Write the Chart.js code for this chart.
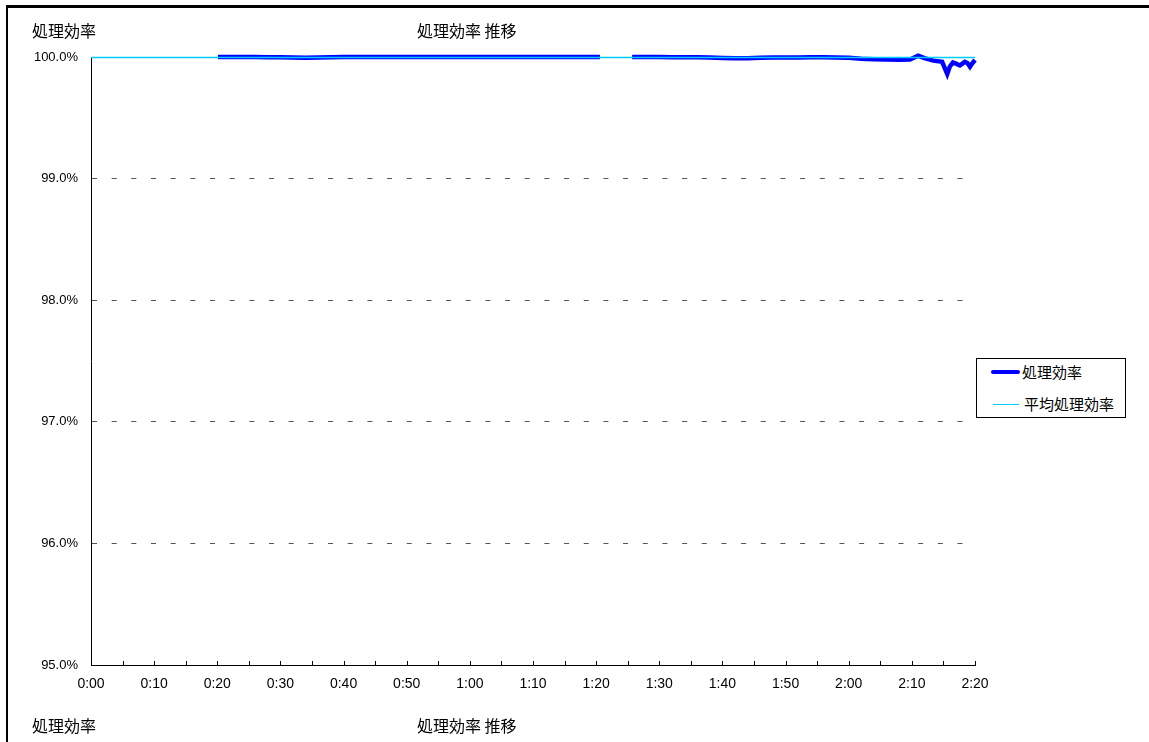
<!DOCTYPE html>
<html>
<head>
<meta charset="utf-8">
<script src="https://cdn.jsdelivr.net/npm/chart.js@4/dist/chart.umd.min.js"></script>
<style>
  html, body { margin: 0; padding: 0; background: #fff; }
  #wrap { position: relative; width: 1149px; height: 742px; overflow: hidden; background: #fff; }
  #frame { position: absolute; left: 6px; top: 5px; right: -10px; bottom: -10px;
           border-top: 3px solid #000; border-left: 2px solid #000; }
  #c { position: absolute; left: 0; top: 0; }
  .txt { position: absolute; font-family: "Noto Sans CJK JP", "Noto Sans CJK SC", sans-serif;
         font-size: 16px; line-height: 16px; color: #000; white-space: nowrap; }
  #legend { position: absolute; left: 976px; top: 358px; width: 150px; height: 60px;
            border: 1px solid #000; box-sizing: border-box; background: #fff; }
  .swatch { position: absolute; }
  .label { position: absolute; font-family: "Noto Sans CJK JP", sans-serif; font-size: 15px;
           line-height: 15px; white-space: nowrap; color: #000; }
</style>
</head>
<body>
<div id="wrap">
  <div id="frame"></div>
  <canvas id="c" width="1149" height="742"></canvas>
  <div class="txt" style="left:32px; top:22px;">処理効率</div>
  <div class="txt" style="left:417px; top:22px;">処理効率 推移</div>
  <div class="txt" style="left:32px; top:717px;">処理効率</div>
  <div class="txt" style="left:417px; top:717px;">処理効率 推移</div>
  <div id="legend"></div>
</div>
<script>
// Elapsed time in minutes and processing efficiency (%); null marks the gap in logging
const effTimes = [
  20.1, 22, 24, 26, 28, 30, 32, 34, 36, 38, 40, 44, 48, 52, 56, 60, 64, 68, 72, 76, 80.6,
  83,
  85.7, 88, 90, 92, 94, 96, 98, 100, 102, 104, 106, 108, 110, 112, 114, 116, 118, 120,
  122, 124, 126, 128, 129.7, 131, 132, 133.4, 134.8, 135.6, 136, 136.5, 137, 137.6,
  138, 138.4, 138.8, 139.2, 139.6, 140
];
const effValues = [
  100.0, 100.0, 100.0, 100.0, 99.998, 99.997, 99.996, 99.994, 99.996, 99.998, 100.0, 99.999, 100.0, 100.0, 100.0, 100.0, 100.0, 100.0, 100.0, 100.0, 100.0,
  null,
  100.0, 100.0, 99.999, 99.998, 99.997, 99.997, 99.995, 99.992, 99.99, 99.99, 99.993, 99.995, 99.996, 99.996, 99.997, 99.997, 99.996, 99.993,
  99.985, 99.982, 99.98, 99.978, 99.98, 100.01, 99.99, 99.97, 99.96, 99.86, 99.92, 99.955, 99.945, 99.93,
  99.945, 99.96, 99.95, 99.92, 99.95, 99.975
];
// Average efficiency over the whole run
const avgTimes = [0, 140];
const avgValues = [99.996, 99.996];

// Axis ticks
const xTickStep = 5;     // minutes between tick marks
const xLabelStep = 10;   // minutes between time labels
const yTicks = [95, 96, 97, 98, 99, 100];

const seriesNames = ['処理効率', '平均処理効率'];
const seriesColors = ['#0000FF', '#00CCFF'];

function fmtTime(m) {
  const h = Math.floor(m / 60);
  const mm = Math.round(m % 60);
  return h + ':' + String(mm).padStart(2, '0');
}

const toXY = (ts, vs) => ts.map((t, i) => ({ x: t, y: vs[i] }));

// Short tick marks pointing into the plot along the time axis
const innerTicks = {
  id: 'innerTicks',
  afterDatasetsDraw(chart) {
    const xs = chart.scales.x, ys = chart.scales.y, ctx = chart.ctx;
    ctx.save();
    ctx.strokeStyle = '#000';
    ctx.lineWidth = 1;
    xs.ticks.forEach(t => {
      const px = Math.round(xs.getPixelForValue(t.value)) + 0.5;
      ctx.beginPath();
      ctx.moveTo(px, ys.bottom);
      ctx.lineTo(px, ys.bottom - 4);
      ctx.stroke();
    });
    ctx.restore();
  }
};

const fontFamily = '"Liberation Sans", Arial, sans-serif';

const chart = new Chart(document.getElementById('c'), {
  type: 'line',
  data: {
    datasets: [
      {
        label: seriesNames[0],
        data: toXY(effTimes, effValues),
        borderColor: seriesColors[0],
        borderWidth: 4.5,
        pointRadius: 0,
        tension: 0,
        spanGaps: false,
        clip: false,
        order: 2
      },
      {
        label: seriesNames[1],
        data: toXY(avgTimes, avgValues),
        borderColor: seriesColors[1],
        borderWidth: 1.5,
        pointRadius: 0,
        tension: 0,
        clip: false,
        order: 1
      }
    ]
  },
  options: {
    responsive: false,
    animation: false,
    devicePixelRatio: 1,
    layout: { padding: { left: 0, top: 57, right: 174, bottom: 0 } },
    plugins: { legend: { display: false }, tooltip: { enabled: false }, title: { display: false } },
    scales: {
      x: {
        type: 'linear',
        min: 0, max: 140,
        afterFit(s) { s.height = 77; },
        border: { display: true, color: '#000', width: 1 },
        grid: { display: true, drawOnChartArea: false, drawTicks: false },
        ticks: {
          stepSize: xTickStep,
          autoSkip: false,
          maxRotation: 0,
          padding: 11,
          color: '#000',
          font: { family: fontFamily, size: 14 },
          callback: v => (v % xLabelStep === 0 ? fmtTime(v) : '')
        }
      },
      y: {
        min: yTicks[0], max: yTicks[yTicks.length - 1],
        afterFit(s) { s.width = 91; },
        afterBuildTicks(s) { s.ticks = yTicks.map(v => ({ value: v })); },
        border: { display: true, color: '#000', width: 1, dash: [5, 14.67] },
        grid: { color: '#555', lineWidth: 1, drawTicks: false },
        ticks: {
          padding: 13,
          color: '#000',
          font: { family: fontFamily, size: 13 },
          callback: v => v.toFixed(1) + '%'
        }
      }
    }
  },
  plugins: [innerTicks]
});

// Legend box built from the chart's datasets
const legend = document.getElementById('legend');
const rows = [
  { y: 13, x0: 14, x1: 43, lw: 4, tx: 45 },
  { y: 45, x0: 16, x1: 42, lw: 1, tx: 47 }
];
chart.data.datasets.forEach((ds, i) => {
  const r = rows[i];
  const sw = document.createElement('div');
  sw.className = 'swatch';
  sw.style.left = r.x0 + 'px';
  sw.style.width = (r.x1 - r.x0) + 'px';
  sw.style.top = (r.y - r.lw / 2) + 'px';
  sw.style.height = r.lw + 'px';
  sw.style.background = ds.borderColor;
  if (i === 0) sw.style.borderRadius = '2px';
  legend.appendChild(sw);
  const lb = document.createElement('div');
  lb.className = 'label';
  lb.style.left = r.tx + 'px';
  lb.style.top = (r.y - 8) + 'px';
  lb.textContent = ds.label;
  legend.appendChild(lb);
});
</script>
</body>
</html>
